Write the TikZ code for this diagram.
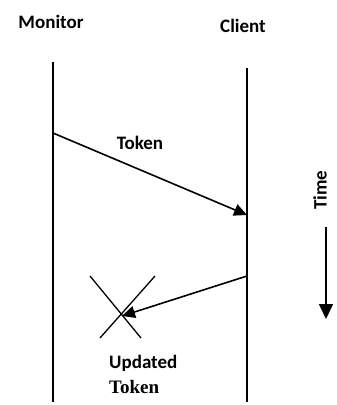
\documentclass[tikz,border=0pt]{standalone}
\usepackage{fontspec}
\setmainfont{Carlito}
\newfontfamily\serifb{Liberation Serif}
\usetikzlibrary{arrows.meta}
\begin{document}
\begin{tikzpicture}[x=1pt,y=-1pt,
  lbl/.style={font=\fontsize{19}{21}\selectfont\bfseries, inner sep=0pt},
  life/.style={line width=1.6pt},
  msg/.style={line width=1.6pt, -{Triangle[length=13pt,width=12pt]}},
  bigmsg/.style={line width=1.6pt, -{Triangle[length=15pt,width=14pt]}},
  cross/.style={line width=1.3pt}]
\useasboundingbox (0,0) rectangle (337,405);
\node[lbl] (mon) at (51,22) {Monitor};
\node[lbl] (cli) at (243,26) {Client};
\coordinate (m0) at (53,62);
\coordinate (m1) at (53,402);
\coordinate (c0) at (247,68);
\coordinate (c1) at (247,402);
\draw[life] (m0) -- (m1);
\draw[life] (c0) -- (c1);
\coordinate (t0) at (53,133);
\coordinate (t1) at (247,215);
\draw[msg] (t0) -- (t1);
\node[lbl] (tok) at (140,143) {Token};
\coordinate (u0) at (247,276);
\coordinate (u1) at (122,316);
\draw[msg] (u0) -- (u1);
\coordinate (x1) at (90,276);
\coordinate (x2) at (141,338);
\coordinate (x3) at (155,276);
\coordinate (x4) at (100,338);
\draw[cross] (x1) -- (x2);
\draw[cross] (x3) -- (x4);
\node[lbl, anchor=west] (upd) at (109,363) {Updated};
\node[font=\fontsize{19}{20}\selectfont\serifb\bfseries, inner sep=0pt, anchor=west] (utok) at (109,387) {Token};
\node[lbl, rotate=90] (time) at (320,190) {Time};
\coordinate (a0) at (326,227);
\coordinate (a1) at (326,319);
\draw[bigmsg] (a0) -- (a1);
\end{tikzpicture}
\end{document}
